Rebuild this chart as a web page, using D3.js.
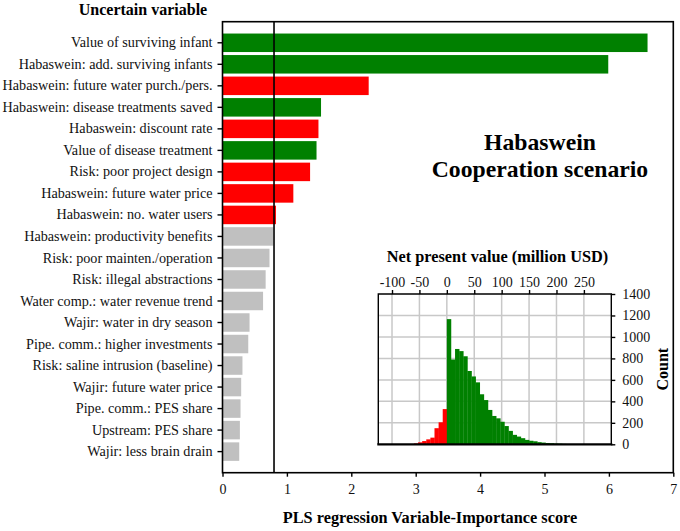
<!DOCTYPE html>
<html>
<head>
<meta charset="utf-8">
<script src="https://cdn.jsdelivr.net/npm/d3@7"></script>
<style>
  body { margin: 0; background: #fff; }
  svg { display: block; }
  svg text { font-family: "Liberation Serif", "Times New Roman", serif; }
</style>
</head>
<body>
<svg id="chart" width="680" height="531"></svg>
<script>
// VIP scores per uncertain variable (sorted as in the figure)
var variables = [
  "Value of surviving infant",
  "Habaswein: add. surviving infants",
  "Habaswein: future water purch./pers.",
  "Habaswein: disease treatments saved",
  "Habaswein: discount rate",
  "Value of disease treatment",
  "Risk: poor project design",
  "Habaswein: future water price",
  "Habaswein: no. water users",
  "Habaswein: productivity benefits",
  "Risk: poor mainten./operation",
  "Risk: illegal abstractions",
  "Water comp.: water revenue trend",
  "Wajir: water in dry season",
  "Pipe. comm.: higher investments",
  "Risk: saline intrusion (baseline)",
  "Wajir: future water price",
  "Pipe. comm.: PES share",
  "Upstream: PES share",
  "Wajir: less brain drain"
];
var vipScores = [6.60, 5.99, 2.27, 1.53, 1.49, 1.46, 1.36, 1.10, 0.83,
                 0.79, 0.73, 0.67, 0.63, 0.42, 0.40, 0.31, 0.29, 0.28, 0.27, 0.26];
// effect sign: "pos" = green, "neg" = red, "ns" = grey (below threshold)
var effects = ["pos", "pos", "neg", "pos", "neg", "pos", "neg", "neg", "neg",
               "ns", "ns", "ns", "ns", "ns", "ns", "ns", "ns", "ns", "ns", "ns"];
var vipThreshold = 0.8;
var vipTicks = [0, 1, 2, 3, 4, 5, 6, 7];

// NPV histogram (million USD), lower bin edges and counts
var npvBinLow = [-60, -52.5, -45, -37.5, -30, -22.5, -15, -7.5,
                 0, 7.5, 15, 22.5, 30, 37.5, 45, 52.5, 60, 67.5, 75, 82.5, 90, 97.5,
                 105, 112.5, 120, 127.5, 135, 142.5, 150, 157.5, 165, 172.5, 180,
                 187.5, 195, 202.5, 210, 217.5, 225, 232.5];
var npvCounts = [8, 18, 30, 46, 62, 150, 205, 328,
                 1166, 790, 888, 868, 820, 683, 632, 577, 466, 412, 320, 264, 242, 210,
                 170, 125, 88, 72, 57, 41, 33, 28, 20, 16, 12, 10,
                 7, 6, 4, 3, 3, 2];
var npvBinWidth = 7.5;
var npvTicks = [-100, -50, 0, 50, 100, 150, 200, 250];
var countTicks = [0, 200, 400, 600, 800, 1000, 1200, 1400];

var colors = { pos: "#008000", neg: "#ff0000", ns: "#c0c0c0" };
var plain = function(d) { return String(d); };
var serif = '"Liberation Serif", "Times New Roman", serif';

var svg = d3.select("#chart");

function styleAxis(g, size) {
  g.select(".domain").remove();
  g.attr("font-family", null);
  g.selectAll("text").style("font-family", serif).attr("font-size", size).attr("fill", "#111");
  g.selectAll("line").attr("stroke-width", 1.4);
}

// ---- main bar chart ----
var pL = 222.5, pR = 673.3, pT = 21.7, pB = 472.7;

var x = d3.scaleLinear().domain([0, 7]).range([pL, pR]);
var y = d3.scaleBand().domain(variables).range([pT, pB])
  .paddingInner(0.14).paddingOuter(0.55);

svg.append("g").selectAll("rect")
  .data(variables)
  .join("rect")
    .attr("x", x(0))
    .attr("y", function(d) { return y(d); })
    .attr("width", function(d, i) { return x(vipScores[i]) - x(0); })
    .attr("height", y.bandwidth())
    .attr("fill", function(d, i) { return colors[effects[i]]; });

// threshold line
svg.append("line")
  .attr("x1", x(vipThreshold)).attr("x2", x(vipThreshold))
  .attr("y1", pT).attr("y2", pB)
  .attr("stroke", "#000").attr("stroke-width", 1.6);

// frame
svg.append("rect")
  .attr("x", pL).attr("y", pT)
  .attr("width", pR - pL).attr("height", pB - pT)
  .attr("fill", "none").attr("stroke", "#000").attr("stroke-width", 1.6);

svg.append("g")
  .attr("transform", "translate(" + pL + ",0)")
  .call(d3.axisLeft(y).tickSize(5).tickPadding(5))
  .call(styleAxis, 14.2);

svg.append("g")
  .attr("transform", "translate(0," + pB + ")")
  .call(d3.axisBottom(x).tickValues(vipTicks).tickFormat(plain).tickSize(4).tickPadding(7))
  .call(styleAxis, 14);

svg.append("text")
  .attr("x", 143).attr("y", 15)
  .attr("text-anchor", "middle")
  .attr("font-weight", "bold").attr("font-size", 16)
  .text("Uncertain variable");

svg.append("text")
  .attr("x", 430).attr("y", 523)
  .attr("text-anchor", "middle")
  .attr("font-weight", "bold").attr("font-size", 16.3)
  .text("PLS regression Variable-Importance score");

svg.append("text")
  .attr("x", 540).attr("y", 150)
  .attr("text-anchor", "middle")
  .attr("font-weight", "bold").attr("font-size", 23.7)
  .text("Habaswein");
svg.append("text")
  .attr("x", 540).attr("y", 177)
  .attr("text-anchor", "middle")
  .attr("font-weight", "bold").attr("font-size", 23.7)
  .text("Cooperation scenario");

// ---- inset histogram ----
var iL = 378.3, iR = 611.3, iT = 294, iB = 444.3;
var hx = d3.scaleLinear().domain([-125, 300]).range([iL, iR]);
var hy = d3.scaleLinear().domain([0, 1400]).range([iB, iT]);

var inset = svg.append("g");
inset.append("rect")
  .attr("x", iL).attr("y", iT).attr("width", iR - iL).attr("height", iB - iT)
  .attr("fill", "#fff");

var grid = inset.append("g").attr("stroke", "#c8c8c8").attr("stroke-width", 1.5);
grid.selectAll("line.v").data(npvTicks).join("line")
  .attr("class", "v")
  .attr("x1", function(d) { return hx(d); }).attr("x2", function(d) { return hx(d); })
  .attr("y1", iT).attr("y2", iB);
grid.selectAll("line.h").data(countTicks.slice(1, -1)).join("line")
  .attr("class", "h")
  .attr("x1", iL).attr("x2", iR)
  .attr("y1", function(d) { return hy(d); }).attr("y2", function(d) { return hy(d); });

inset.append("g").selectAll("rect")
  .data(npvBinLow)
  .join("rect")
    .attr("x", function(d) { return hx(d); })
    .attr("y", function(d, i) { return hy(npvCounts[i]); })
    .attr("width", function(d) { return hx(d + npvBinWidth) - hx(d) + 0.3; })
    .attr("height", function(d, i) { return hy(0) - hy(npvCounts[i]); })
    .attr("fill", function(d) { return d < 0 ? colors.neg : colors.pos; });

inset.append("path")
  .attr("d", "M" + iL + "," + iB + "V" + iT + "H" + iR + "V" + iB)
  .attr("fill", "none").attr("stroke", "#000").attr("stroke-width", 1.4);
inset.append("line")
  .attr("x1", iL - 1).attr("x2", iR + 1).attr("y1", iB).attr("y2", iB)
  .attr("stroke", "#000").attr("stroke-width", 2.2);

inset.append("g")
  .attr("transform", "translate(0," + iT + ")")
  .call(d3.axisTop(hx).tickValues(npvTicks).tickFormat(plain).tickSize(4).tickPadding(3))
  .call(styleAxis, 14);

inset.append("g")
  .attr("transform", "translate(" + iR + ",0)")
  .call(d3.axisRight(hy).tickValues(countTicks).tickFormat(plain).tickSize(4).tickPadding(7))
  .call(styleAxis, 14);

inset.append("text")
  .attr("x", 497.5).attr("y", 262)
  .attr("text-anchor", "middle")
  .attr("font-weight", "bold").attr("font-size", 16.3)
  .text("Net present value (million USD)");

inset.append("text")
  .attr("transform", "translate(668," + ((iT + iB) / 2) + ") rotate(-90)")
  .attr("text-anchor", "middle")
  .attr("font-weight", "bold").attr("font-size", 16)
  .text("Count");
</script>
</body>
</html>
